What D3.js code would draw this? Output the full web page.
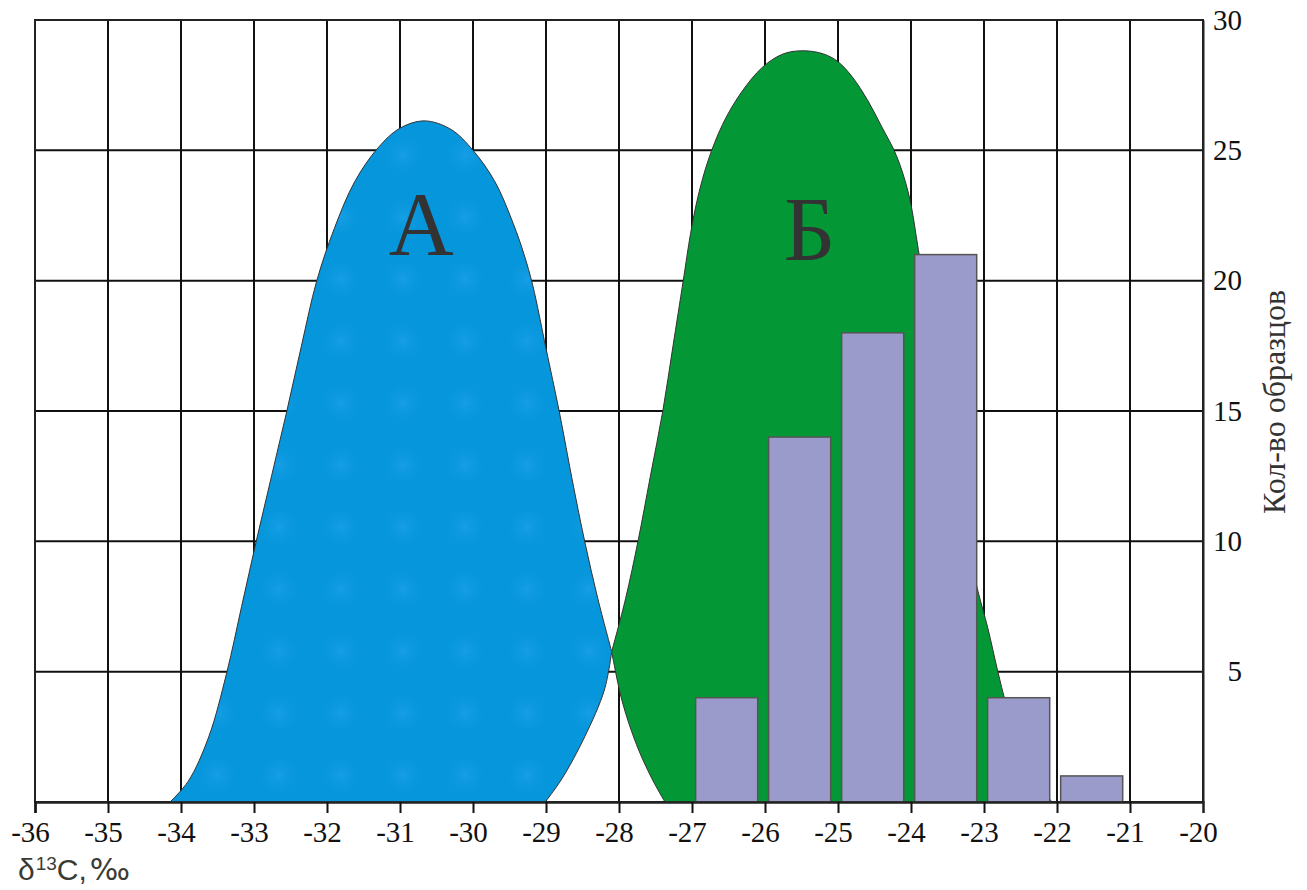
<!DOCTYPE html>
<html>
<head>
<meta charset="utf-8">
<script src="https://cdn.jsdelivr.net/npm/d3@7"></script>
<style>
  body { margin: 0; background: #fff; }
  .serif { font-family: "Liberation Serif", "Times New Roman", Times, serif; }
  .sans { font-family: "Liberation Sans", Arial, Helvetica, sans-serif; }
</style>
</head>
<body>
<div id="chart"></div>
<script>
// tick values
var xTickValues = d3.range(-36, -19)          // -36 ... -20
var yTickValues = [5, 10, 15, 20, 25, 30]

// histogram: left edge of each bin and number of samples
var binStart = [-27, -26, -25, -24, -23, -22]
var binCount = [4, 14, 18, 21, 4, 1]

// field А (blue): outer outline foot -> peak -> crossing point, then inner edge down to baseline
var curveAOuter = [[-34.15, 0], [-33.9, 0.8], [-33.62, 2.5], [-33.37, 5], [-33.17, 7.5], [-32.97, 10],
  [-32.76, 12.5], [-32.55, 15], [-32.35, 17.5], [-32.14, 20], [-31.9, 22], [-31.62, 23.8],
  [-31.3, 25.1], [-31.0, 25.85], [-30.66, 26.13], [-30.3, 25.8], [-30.0, 25.0], [-29.7, 23.8],
  [-29.45, 22.2], [-29.3, 21], [-29.18, 19.8], [-29.0, 17.4], [-28.82, 15], [-28.63, 12.2],
  [-28.47, 10], [-28.29, 7.8], [-28.1, 5.77]]
var curveAInner = [[-28.1, 5.77], [-28.2, 4.3], [-28.47, 2.5], [-28.78, 0.9], [-29.01, 0]]

// field Б (green): inner edge from baseline up to crossing, then outer outline over the peak
var curveBInner = [[-27.37, 0], [-27.55, 0.9], [-27.76, 2.2], [-27.96, 3.9], [-28.1, 5.77]]
var curveBOuter = [[-28.1, 5.77], [-27.91, 7.8], [-27.74, 10], [-27.57, 12.5], [-27.4, 15],
  [-27.26, 17.5], [-27.12, 20], [-27.02, 21.8], [-26.92, 23.2], [-26.78, 24.6], [-26.58, 26.0],
  [-26.33, 27.2], [-26.03, 28.2], [-25.75, 28.7], [-25.48, 28.82], [-25.2, 28.7], [-25.0, 28.4],
  [-24.8, 27.8], [-24.59, 26.9], [-24.4, 25.9], [-24.2, 24.8], [-24.03, 23.3], [-23.9, 21.2],
  [-23.75, 18.5], [-23.58, 15.5], [-23.4, 12.5], [-23.22, 9.8], [-23.08, 8.06], [-22.95, 6.7],
  [-22.81, 5], [-22.7, 3.8], [-22.5, 2.2], [-22.3, 0.9], [-22.07, 0]]

var width = 1307, height = 890
var margin = {left: 35, right: 104, top: 20, bottom: 88}

var svg = d3.select("#chart").append("svg")
    .attr("width", width)
    .attr("height", height)

var x = d3.scaleLinear().domain([-36, -20]).range([margin.left, width - margin.right])
var y = d3.scaleLinear().domain([0, 30]).range([height - margin.bottom, margin.top])

// soft mottled texture of the blue field
var defs = svg.append("defs")
var grad = defs.append("radialGradient").attr("id", "spot")
grad.append("stop").attr("offset", "0%").attr("stop-color", "#1ea2ea").attr("stop-opacity", 0.7)
grad.append("stop").attr("offset", "100%").attr("stop-color", "#0696db").attr("stop-opacity", 0)
var pat = defs.append("pattern").attr("id", "bluetex")
    .attr("patternUnits", "userSpaceOnUse").attr("width", 62).attr("height", 62)
pat.append("rect").attr("width", 62).attr("height", 62).attr("fill", "#0696db")
pat.append("circle").attr("cx", 31).attr("cy", 31).attr("r", 24).attr("fill", "url(#spot)")

// grid
var grid = svg.append("g").attr("stroke", "#111").attr("stroke-width", 2)
grid.selectAll(".vg")
  .data(xTickValues.slice(1, -1))
  .enter().append("line")
    .attr("x1", d => x(d)).attr("x2", d => x(d))
    .attr("y1", y(0)).attr("y2", y(30))
grid.selectAll(".hg")
  .data(yTickValues.slice(0, -1))
  .enter().append("line")
    .attr("x1", x(-36)).attr("x2", x(-20))
    .attr("y1", d => y(d)).attr("y2", d => y(d))

// frame
svg.append("rect")
    .attr("x", x(-36)).attr("y", y(30))
    .attr("width", x(-20) - x(-36)).attr("height", y(0) - y(30))
    .attr("fill", "none").attr("stroke", "#222").attr("stroke-width", 2)

var line = d3.line()
    .x(d => x(d[0]))
    .y(d => y(d[1]))
    .curve(d3.curveCatmullRom.alpha(0.5))

function outline(a, b) {
  return line(a) + line(b).replace(/^M/, "L") + "Z"
}

svg.append("path")
    .attr("d", outline(curveAOuter, curveAInner))
    .attr("fill", "url(#bluetex)")
    .attr("stroke", "#333")
    .attr("stroke-width", 1)

svg.append("path")
    .attr("d", outline(curveBInner, curveBOuter))
    .attr("fill", "#039835")
    .attr("stroke", "#333")
    .attr("stroke-width", 1)

// bars
svg.append("g").selectAll("rect")
  .data(binStart.map((s, i) => ({start: s, count: binCount[i]})))
  .enter().append("rect")
    .attr("x", d => x(d.start + 0.05))
    .attr("width", d => x(d.start + 0.9) - x(d.start + 0.05))
    .attr("y", d => y(d.count))
    .attr("height", d => y(0) - y(d.count))
    .attr("fill", "#9b9bcb")
    .attr("stroke", "#555")
    .attr("stroke-width", 1.5)

// field letters
svg.append("g")
    .attr("class", "serif")
    .attr("font-size", 90)
    .attr("fill", "#333")
    .attr("text-anchor", "middle")
  .selectAll("text")
  .data([{t: "А", x: -30.71, y: 21.0}, {t: "Б", x: -25.39, y: 20.8}])
  .enter().append("text")
    .attr("x", d => x(d.x))
    .attr("y", d => y(d.y))
    .text(d => d.t)

// bottom axis
var xAxis = svg.append("g")
    .attr("transform", "translate(0," + y(0) + ")")
    .call(d3.axisBottom(x).tickValues(xTickValues).tickSize(11).tickFormat(d => d.toString()))
xAxis.attr("font-family", null).attr("font-size", null)
xAxis.select(".domain").attr("stroke", "#222").attr("stroke-width", 2.5)
xAxis.selectAll(".tick line").attr("stroke", "#111").attr("stroke-width", 2)
  .filter(d => d === -20).remove()
xAxis.selectAll(".tick text")
    .attr("class", "serif")
    .attr("y", 40).attr("dy", 0).attr("dx", -5)
    .style("font-size", "29px")
    .attr("fill", "#111")

// right axis
var yAxis = svg.append("g")
    .attr("transform", "translate(" + x(-20) + ",0)")
    .call(d3.axisRight(y).tickValues(yTickValues).tickSize(0).tickFormat(d => d.toString()))
yAxis.attr("font-family", null).attr("font-size", null)
yAxis.select(".domain").attr("stroke", "#222").attr("stroke-width", 2)
yAxis.selectAll(".tick text")
    .attr("class", "serif")
    .attr("x", 39).attr("dy", "0.32em")
    .attr("text-anchor", "end")
    .style("font-size", "29px")
    .attr("fill", "#111")

// axis titles
var xt = svg.append("text")
    .attr("class", "sans")
    .attr("x", 18).attr("y", 880)
    .style("font-size", "30px")
    .attr("fill", "#3b3b33")
xt.append("tspan").text("δ")
xt.append("tspan").style("font-size", "19px").attr("dy", -10).attr("dx", 1).text("13")
xt.append("tspan").attr("dy", 10).text("C,")
xt.append("tspan").attr("dx", 3).style("font-family", "'DejaVu Sans', sans-serif").text("‰")

svg.append("text")
    .attr("class", "serif")
    .attr("transform", "translate(1285,402) rotate(-90)")
    .attr("text-anchor", "middle")
    .style("font-size", "32px")
    .attr("fill", "#333")
    .text("Кол-во образцов")
</script>
</body>
</html>
